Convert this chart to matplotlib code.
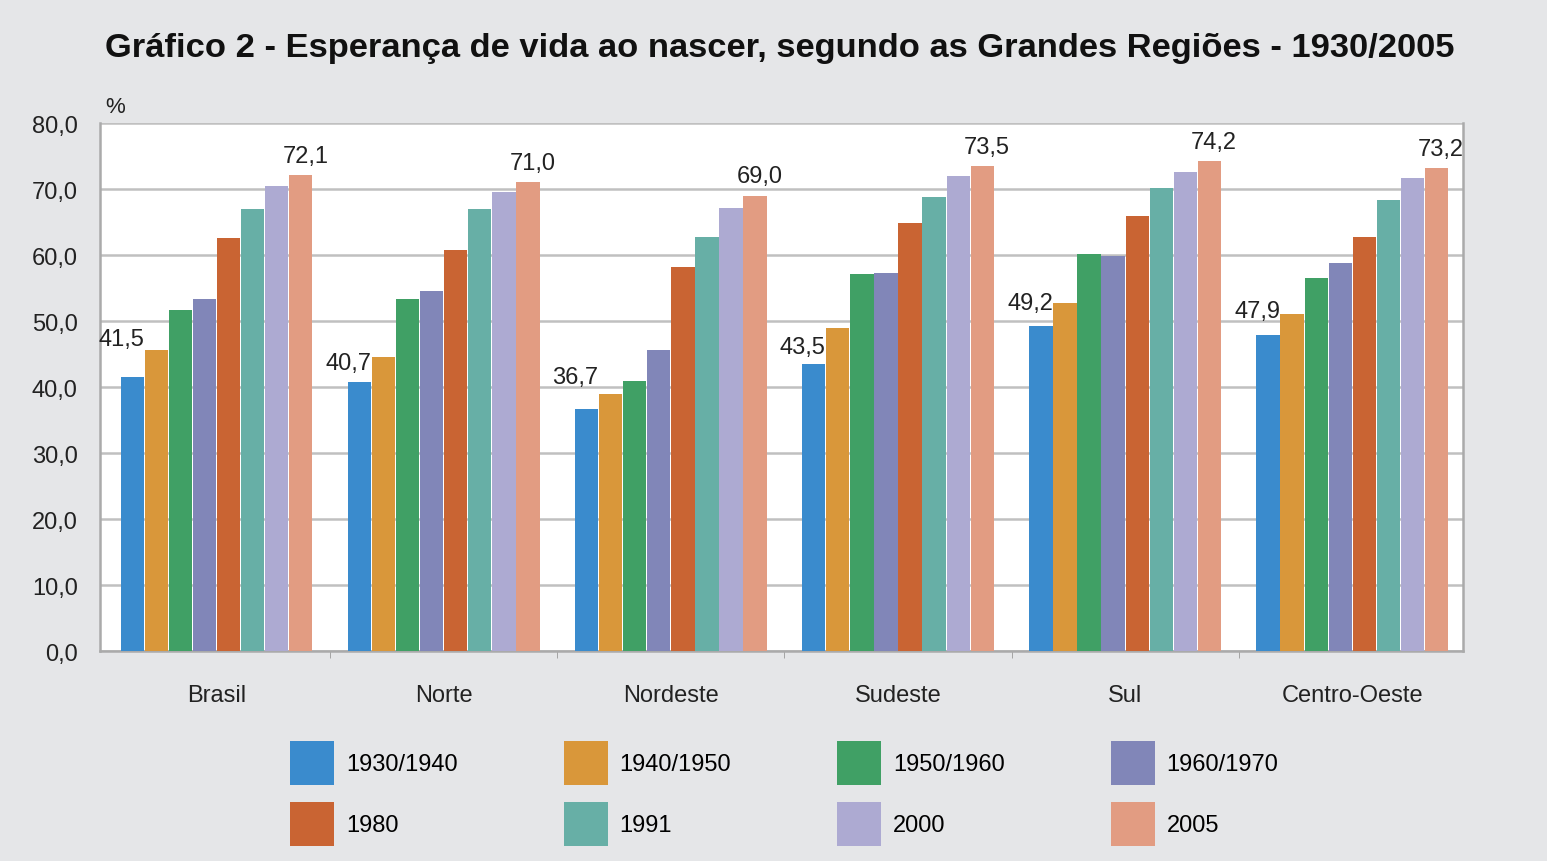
import numpy as np
import matplotlib.pyplot as plt

plt.rcParams['font.family'] = ['Liberation Sans', 'DejaVu Sans']

# Dados: esperança de vida ao nascer por região
regioes = ['Brasil', 'Norte', 'Nordeste', 'Sudeste', 'Sul', 'Centro-Oeste']
periodos = ['1930/1940', '1940/1950', '1950/1960', '1960/1970', '1980', '1991', '2000', '2005']

v1930 = [41.5, 40.7, 36.7, 43.5, 49.2, 47.9]
v1940 = [45.6, 44.6, 38.9, 48.9, 52.7, 51.0]
v1950 = [51.6, 53.3, 40.9, 57.1, 60.2, 56.5]
v1960 = [53.4, 54.6, 45.6, 57.3, 59.9, 58.8]
v1980 = [62.6, 60.8, 58.2, 64.8, 65.9, 62.7]
v1991 = [66.9, 66.9, 62.8, 68.8, 70.2, 68.4]
v2000 = [70.4, 69.5, 67.1, 72.0, 72.6, 71.6]
v2005 = [72.1, 71.0, 69.0, 73.5, 74.2, 73.2]
series = [v1930, v1940, v1950, v1960, v1980, v1991, v2000, v2005]

cores = ['#3A8BCD', '#D9973A', '#40A065', '#8186B8',
         '#C96433', '#67AFA6', '#ADAAD2', '#E29C82']

# deslocamento vertical dos rótulos do primeiro período (como no original)
desloc_rotulo = [5.8, 2.9, 4.8, 2.6, 3.5, 3.6]

fundo = '#E5E6E8'
fig = plt.figure(figsize=(15.47, 8.62), dpi=100, facecolor=fundo)
ax = fig.add_axes([0.0646, 0.2436, 0.8811, 0.6125])
ax.set_facecolor('white')

x = np.arange(len(regioes))
largura = 0.106
n = len(series)
barras = []
for i, (vals, cor, per) in enumerate(zip(series, cores, periodos)):
    pos = x + (i - (n - 1) / 2) * largura
    b = ax.bar(pos, vals, width=largura * 0.97, color=cor, label=per, zorder=3)
    barras.append(b)

# Rótulos de valor: primeiro e último período
for j in range(len(regioes)):
    x0 = x[j] - (n - 1) / 2 * largura + largura / 2
    ax.text(x0, v1930[j] + desloc_rotulo[j], f'{v1930[j]:.1f}'.replace('.', ','),
            ha='right', va='center', fontsize=17, color='#222222')
    x1 = x[j] + (n - 1) / 2 * largura + 0.02
    ax.text(x1, v2005[j] + 2.9, f'{v2005[j]:.1f}'.replace('.', ','),
            ha='center', va='center', fontsize=17, color='#222222')

ax.set_xlim(-0.513, len(regioes) - 0.513)
ax.set_ylim(0, 80)
ax.set_yticks(np.arange(0, 81, 10))
ax.set_yticklabels([f'{v:.1f}'.replace('.', ',') for v in np.arange(0, 81, 10)])
ax.yaxis.grid(True, color='#C0C0C0', linewidth=1.8, zorder=0)
ax.set_xticks(x)
ax.set_xticklabels(regioes)
ax.set_xticks(np.arange(0.5, len(regioes) - 1, 1), minor=True)
ax.tick_params(axis='x', which='major', length=0, pad=24, labelsize=17, colors='#222222')
ax.tick_params(axis='x', which='minor', length=5, color='#999999', direction='out')
ax.tick_params(axis='y', length=0, pad=16, labelsize=17, colors='#222222')

for lado in ['left', 'bottom', 'right']:
    ax.spines[lado].set_color('#AAAAAA')
    ax.spines[lado].set_linewidth(1.8)
ax.spines['top'].set_visible(False)

ax.text(0.004, 1.012, '%', transform=ax.transAxes, fontsize=16, color='#222222',
        ha='left', va='bottom')

fig.text(0.504, 0.944, 'Gráfico 2 - Esperança de vida ao nascer, segundo as Grandes Regiões - 1930/2005',
         ha='center', va='center', fontsize=24.8, fontweight='bold', color='#111111')

# legenda preenchida por linhas (matplotlib preenche por colunas)
ordem = [0, 4, 1, 5, 2, 6, 3, 7]
fig.legend([barras[k] for k in ordem], [periodos[k] for k in ordem],
           loc='center', bbox_to_anchor=(0.507, 0.0783), ncol=4, frameon=False,
           fontsize=17, handlelength=1.86, handleheight=2.49, handletextpad=0.5,
           columnspacing=4.5, labelspacing=0.72)

plt.savefig('out.png', dpi=100, facecolor=fundo)
